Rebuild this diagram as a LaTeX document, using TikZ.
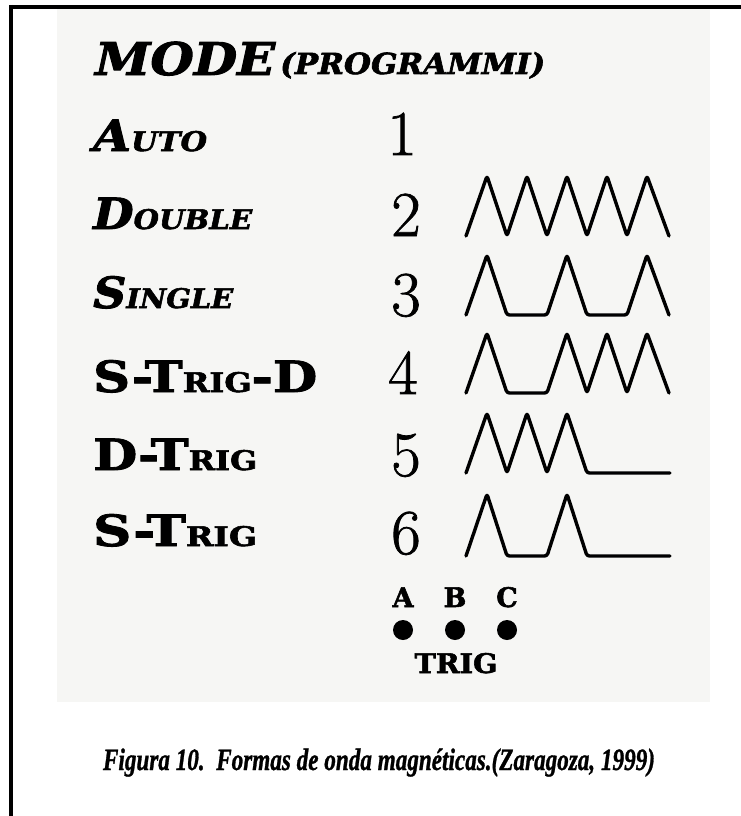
\documentclass[tikz,border=0pt]{standalone}
\usepackage{fontspec}
\usepackage{graphicx}
\newfontfamily\lblfont{DejaVu Serif}[FakeBold=2]
\newfontfamily\numfont{Latin Modern Roman}[FakeBold=1.2]
\newfontfamily\capfont{Liberation Serif}[FakeBold=1.2]
\definecolor{photo}{RGB}{246,246,244}
\newcommand\bigC[1]{{\fontsize{43}{43}\selectfont #1}}
\newcommand\smalC[1]{{\fontsize{27}{27}\selectfont #1}}
\tikzset{
  lbl/.style={anchor=base west, inner sep=0pt, font=\lblfont\bfseries},
  num/.style={anchor=base, inner sep=0pt, font=\numfont\fontsize{64}{64}\selectfont},
  wave/.style={line width=3.4pt, line join=round, line cap=round, rounded corners=2.5pt},
  dot/.style={circle, fill=black, inner sep=0pt, minimum size=20pt},
  trig/.style={anchor=base, inner sep=0pt, font=\lblfont\bfseries\fontsize{27}{27}\selectfont},
  frame/.style={line width=4pt}
}
\begin{document}
\begin{tikzpicture}[x=1pt,y=-1pt]
\useasboundingbox (0,0) rectangle (741,816);
\fill[white] (0,0) rectangle (741,816);
\fill[photo] (57,9) rectangle (710,702);
\draw[frame] (9,7) -- (741,7);
\draw[frame] (11,5) -- (11,816);
% title
\node[lbl] (mode) at (95,75) {\resizebox{180pt}{\height}{\itshape\fontsize{45}{45}\selectfont MODE}};
\node[lbl] (prog) at (280,74) {\resizebox{265pt}{\height}{\itshape\fontsize{29}{29}\selectfont (PROGRAMMI)}};
% labels
\node[lbl] (auto) at (93,151) {\resizebox{114pt}{\height}{\itshape\bigC{A}\smalC{UTO}}};
\node[lbl] (double) at (93,229) {\resizebox{159pt}{\height}{\itshape\bigC{D}\smalC{OUBLE}}};
\node[lbl] (single) at (93,308) {\resizebox{140pt}{\height}{\itshape\bigC{S}\smalC{INGLE}}};
\node[lbl] (strigd) at (93,392) {\resizebox{224pt}{\height}{\bigC{S-T}\smalC{RIG}\bigC{-D}}};
\node[lbl] (dtrig) at (93,470) {\resizebox{164pt}{\height}{\bigC{D-T}\smalC{RIG}}};
\node[lbl] (strig) at (93,546) {\resizebox{164pt}{\height}{\bigC{S-T}\smalC{RIG}}};
% numbers
\node[num] (n1) at (402,155) {1};
\node[num] (n2) at (406,236) {2};
\node[num] (n3) at (406,316) {3};
\node[num] (n4) at (403,394) {4};
\node[num] (n5) at (406,476) {5};
\node[num] (n6) at (406,554) {6};
% waveforms
\draw[wave] (466,236) -- (487,176) -- (507,236) -- (527,176) -- (547,236) -- (567,176) -- (587,236) -- (607,176) -- (627,236) -- (647,176) -- (669,236);
\draw[wave] (466,315) -- (487,255) -- (507,315) -- (547,315) -- (567,255) -- (587,315) -- (627,315) -- (647,255) -- (669,315);
\draw[wave] (466,393) -- (487,333) -- (507,393) -- (547,393) -- (567,333) -- (587,393) -- (607,333) -- (627,393) -- (647,333) -- (669,393);
\draw[wave] (466,473) -- (487,413) -- (507,473) -- (527,413) -- (547,473) -- (567,413) -- (587,473) -- (670,473);
\draw[wave] (466,556) -- (487,494) -- (507,556) -- (547,556) -- (567,494) -- (587,556) -- (670,556);
% trig inputs
\node[trig] (la) at (403,607) {A};
\node[trig] (lb) at (455,607) {B};
\node[trig] (lc) at (507,607) {C};
\node[dot] (da) at (403,630) {};
\node[dot] (db) at (455,630) {};
\node[dot] (dc) at (507,630) {};
\node[trig] (ltrig) at (456,673) {\resizebox{83pt}{\height}{TRIG}};
% caption
\node[anchor=base, inner sep=0pt] (cap) at (379,770) {\resizebox{552pt}{\height}{\capfont\bfseries\itshape\fontsize{31}{31}\selectfont Figura 10.\ \ Formas de onda magnéticas.(Zaragoza, 1999)}};
\end{tikzpicture}
\end{document}
